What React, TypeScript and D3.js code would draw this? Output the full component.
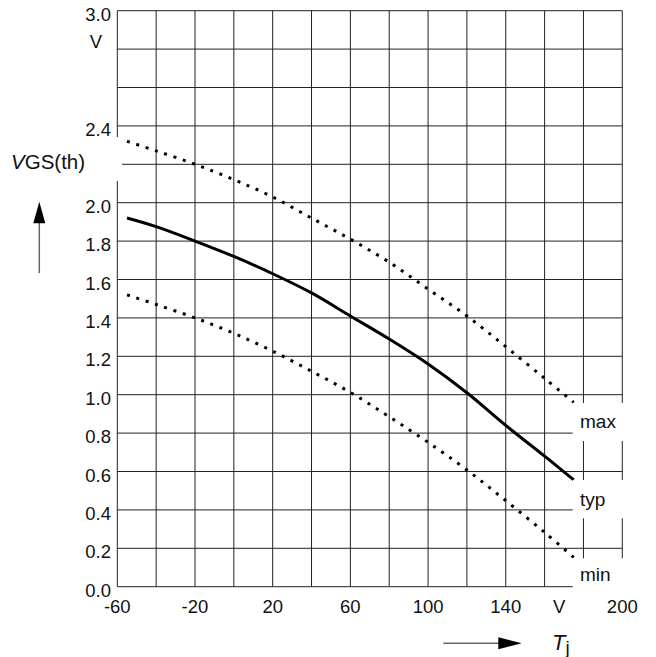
import React, { useEffect, useRef } from 'react';
import * as d3 from 'd3';

// junction temperature (°C) sample points
const tj = [-55, -40, -20, 0, 20, 40, 60, 80, 100, 120, 140, 160, 175];
const vMax = [2.32, 2.27, 2.2, 2.12, 2.03, 1.92, 1.81, 1.69, 1.55, 1.41, 1.25, 1.085, 0.96];
const vTyp = [1.92, 1.875, 1.8, 1.72, 1.63, 1.53, 1.41, 1.29, 1.16, 1.01, 0.84, 0.68, 0.556];
const vMin = [1.52, 1.47, 1.4, 1.32, 1.227, 1.122, 1.012, 0.885, 0.752, 0.608, 0.448, 0.283, 0.153];

const xTickLabels = ['-60', '-20', '20', '60', '100', '140', '200'];
const yTickLabels = ['0.0', '0.2', '0.4', '0.6', '0.8', '1.0', '1.2', '1.4', '1.6', '1.8', '2.0', '2.4', '3.0'];
const seriesLabels = ['max', 'typ', 'min'];

const W = 656;
const H = 657;
const FONT = 'Liberation Sans, Arial, sans-serif';

const App: React.FC = () => {
  const svgRef = useRef<SVGSVGElement>(null);

  useEffect(() => {
    if (!svgRef.current) return;
    const svg = d3.select(svgRef.current);
    svg.selectAll('*').remove();

    const x = d3.scaleLinear().domain([-60, 200]).range([117.3, 622.3]);
    const y = d3.scaleLinear().domain([0, 3]).range([586.7, 10.7]);

    const grid = svg.append('g').attr('stroke', '#222').attr('stroke-width', 1);
    d3.range(-60, 201, 20).forEach(v => {
      grid.append('line')
        .attr('x1', x(v)).attr('x2', x(v))
        .attr('y1', y(0)).attr('y2', y(3));
    });
    d3.range(0, 16).forEach(i => {
      const v = i * 0.2;
      grid.append('line')
        .attr('x1', x(-60)).attr('x2', x(200))
        .attr('y1', y(v)).attr('y2', y(v));
    });

    // curves
    const pts = (vals: number[]) => tj.map((t, i) => [t, vals[i]] as [number, number]);
    const line = d3.line<[number, number]>()
      .x(d => x(d[0]))
      .y(d => y(d[1]))
      .curve(d3.curveCatmullRom.alpha(0.5));

    svg.append('path')
      .attr('d', line(pts(vMax)))
      .attr('fill', 'none')
      .attr('stroke', '#000')
      .attr('stroke-width', 3)
      .attr('stroke-dasharray', '3 6.8');
    svg.append('path')
      .attr('d', line(pts(vMin)))
      .attr('fill', 'none')
      .attr('stroke', '#000')
      .attr('stroke-width', 3)
      .attr('stroke-dasharray', '3 6.8');
    svg.append('path')
      .attr('d', line(pts(vTyp)))
      .attr('fill', 'none')
      .attr('stroke', '#000')
      .attr('stroke-width', 3);

    // white boxes behind labels
    const boxes: [number, number][] = [[403, 441], [480, 518.3], [558.3, 600]];
    boxes.forEach(([a, b], i) => {
      svg.append('rect')
        .attr('x', 572.7).attr('y', a)
        .attr('width', 80).attr('height', b - a)
        .attr('fill', '#fff');
      svg.append('text')
        .attr('x', 580).attr('y', [427.5, 505.5, 581][i])
        .attr('font-family', FONT).attr('font-size', 19).attr('fill', '#111')
        .text(seriesLabels[i]);
    });
    svg.append('rect')
      .attr('x', 0).attr('y', 137).attr('width', 122).attr('height', 44)
      .attr('fill', '#fff');

    // tick labels
    const tl = svg.append('g').attr('font-family', FONT).attr('font-size', 18.5).attr('fill', '#111');
    xTickLabels.forEach(l => {
      tl.append('text')
        .attr('x', x(+l)).attr('y', 612.5)
        .attr('text-anchor', 'middle')
        .text(l);
    });
    tl.append('text').attr('x', x(167.5)).attr('y', 612.5).attr('text-anchor', 'middle').text('V');
    yTickLabels.forEach(l => {
      tl.append('text')
        .attr('x', 111).attr('y', y(+l) + 10)
        .attr('text-anchor', 'end')
        .text(l);
    });
    tl.append('text').attr('x', 96).attr('y', y(2.8) - 1).attr('text-anchor', 'middle').text('V');

    // axis titles
    const yt = svg.append('text')
      .attr('x', 11).attr('y', 169)
      .attr('font-family', FONT).attr('font-size', 20.5).attr('fill', '#111');
    yt.append('tspan').attr('font-style', 'italic').text('V');
    yt.append('tspan').text('GS(th)');

    svg.append('line')
      .attr('x1', 39.3).attr('x2', 39.3).attr('y1', 273).attr('y2', 218)
      .attr('stroke', '#666').attr('stroke-width', 1.5);
    svg.append('path')
      .attr('d', 'M39.3,201.7 L33.3,223.3 L45.3,223.3 Z')
      .attr('fill', '#000');

    svg.append('line')
      .attr('x1', 443.3).attr('x2', 502).attr('y1', 643.3).attr('y2', 643.3)
      .attr('stroke', '#666').attr('stroke-width', 1.5);
    svg.append('path')
      .attr('d', 'M521.7,643.3 L498.3,637.3 L498.3,649.3 Z')
      .attr('fill', '#000');

    const xt = svg.append('text')
      .attr('x', 552).attr('y', 650)
      .attr('font-family', FONT).attr('font-size', 22).attr('fill', '#111');
    xt.append('tspan').attr('font-style', 'italic').text('T');
    xt.append('tspan').attr('dy', 4).attr('font-size', 19).text('j');
  }, []);

  return (
    <svg
      ref={svgRef}
      width={W}
      height={H}
      style={{ position: 'absolute', left: 0, top: 0, background: '#fff' }}
    />
  );
};

export default App;
